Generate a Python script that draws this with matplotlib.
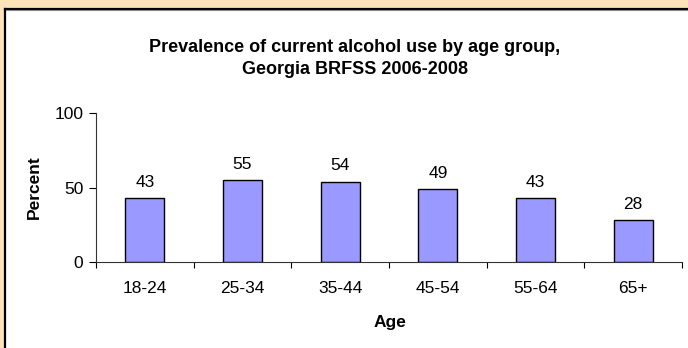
import numpy as np
import matplotlib.pyplot as plt
from matplotlib.patches import Rectangle

age_groups = ['18-24', '25-34', '35-44', '45-54', '55-64', '65+']
percent = [43, 55, 54, 49, 43, 28]
y_ticks = [0, 50, 100]

plt.rcParams['font.family'] = ['Liberation Sans', 'DejaVu Sans']

W, H = 688, 348
fig = plt.figure(figsize=(W / 100, H / 100), dpi=100)
fig.patch.set_facecolor('#FFE3B8')

# white panel with dark frame on top/left
panel = Rectangle((5 / W, 0), 1, 1 - 9 / H, transform=fig.transFigure,
                  facecolor='white', edgecolor='none', zorder=-5)
fig.add_artist(panel)
fig.add_artist(plt.Line2D([4.5 / W, 1], [1 - 8.5 / H] * 2, color='black', lw=1.6,
                          transform=fig.transFigure, zorder=-4))
fig.add_artist(plt.Line2D([4.5 / W] * 2, [0, 1 - 8.5 / H], color='black', lw=1.6,
                          transform=fig.transFigure, zorder=-4))
fig.add_artist(plt.Line2D([6 / W, 1], [1 - 10 / H] * 2, color='#888888', lw=0.8,
                          transform=fig.transFigure, zorder=-4))

ax = fig.add_axes([96 / W, 1 - 262 / H, 586 / W, 149 / H])
ax.set_facecolor('none')
ax.set_zorder(2)

x = np.arange(len(age_groups))
ax.bar(x, percent, width=0.4, color='#9999FF', edgecolor='black', linewidth=1)
for xi, v in zip(x, percent):
    ax.annotate(str(v), (xi, v), xytext=(0, 6), textcoords='offset points',
                ha='center', va='bottom', fontsize=12.5)

ax.set_xlim(-0.5, len(age_groups) - 0.5)
ax.set_ylim(0, 100)
ax.set_yticks(y_ticks)
ax.set_xticks(x)
ax.set_xticklabels(age_groups)
ax.set_xticks(np.arange(len(age_groups) + 1) - 0.5, minor=True)
ax.tick_params(axis='x', which='major', length=0, pad=14, labelsize=12.5)
ax.tick_params(axis='x', which='minor', length=4, direction='out', width=0.8)
ax.tick_params(axis='y', length=5, direction='out', width=0.8, labelsize=12.5, pad=4)

for s in ['top', 'right']:
    ax.spines[s].set_visible(False)
for s in ['left', 'bottom']:
    ax.spines[s].set_linewidth(0.8)
    ax.spines[s].set_color('#333333')

ax.set_xlabel('Age', fontweight='bold', fontsize=12.5)
ax.set_ylabel('Percent', fontweight='bold', fontsize=12.5)
ax.xaxis.set_label_coords((390 - 96) / 586, -(323 - 262) / 149)
ax.yaxis.set_label_coords(-(96 - 34) / 586, 0.5)
ax.xaxis.label.set_va('center')
ax.yaxis.label.set_va('center')

fig.text(355 / W, 1 - 48 / H, 'Prevalence of current alcohol use by age group,',
         ha='center', va='center', fontweight='bold', fontsize=13)
fig.text(355 / W, 1 - 69 / H, 'Georgia BRFSS 2006-2008',
         ha='center', va='center', fontweight='bold', fontsize=13)

fig.savefig('out.png', dpi=100, facecolor=fig.get_facecolor())
